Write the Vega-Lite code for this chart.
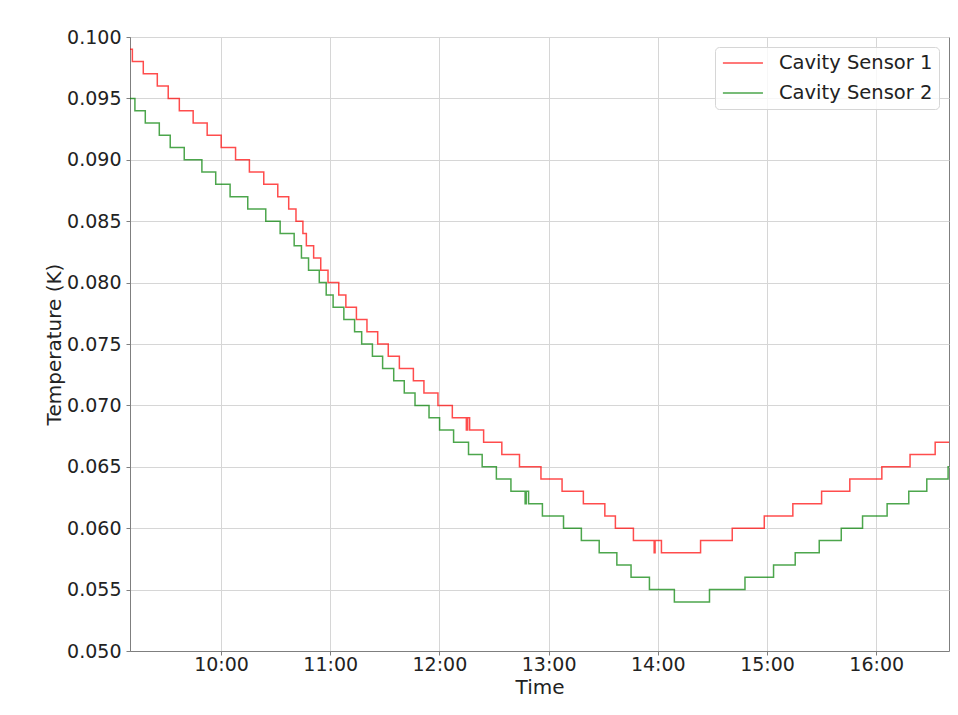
{
  "$schema": "https://vega.github.io/schema/vega-lite/v6.json",
  "width": 819,
  "height": 614,
  "autosize": "none",
  "padding": {"left": 130, "top": 37, "right": 9, "bottom": 64},
  "background": "white",
  "config": {
    "view": {"stroke": "#7f7f7f", "strokeWidth": 1},
    "axis": {
      "labelFont": "DejaVu Sans", "labelFontSize": 19, "labelColor": "#222",
      "titleFont": "DejaVu Sans", "titleFontSize": 20, "titleFontWeight": "normal", "titleColor": "#222",
      "domainColor": "#7f7f7f", "tickColor": "#7f7f7f", "tickSize": 4,
      "gridColor": "#d6d6d6", "gridWidth": 1
    },
    "legend": {
      "labelFont": "DejaVu Sans", "labelFontSize": 19.5, "labelColor": "#222"
    }
  },
  "data": {"values": [
    {"sensor": "Cavity Sensor 1", "time": "2020-01-01T09:10:00", "temp": 0.099},
    {"sensor": "Cavity Sensor 1", "time": "2020-01-01T09:11:18", "temp": 0.098},
    {"sensor": "Cavity Sensor 1", "time": "2020-01-01T09:17:18", "temp": 0.097},
    {"sensor": "Cavity Sensor 1", "time": "2020-01-01T09:25:00", "temp": 0.096},
    {"sensor": "Cavity Sensor 1", "time": "2020-01-01T09:31:00", "temp": 0.095},
    {"sensor": "Cavity Sensor 1", "time": "2020-01-01T09:37:06", "temp": 0.094},
    {"sensor": "Cavity Sensor 1", "time": "2020-01-01T09:44:42", "temp": 0.093},
    {"sensor": "Cavity Sensor 1", "time": "2020-01-01T09:52:24", "temp": 0.092},
    {"sensor": "Cavity Sensor 1", "time": "2020-01-01T10:00:06", "temp": 0.091},
    {"sensor": "Cavity Sensor 1", "time": "2020-01-01T10:08:00", "temp": 0.090},
    {"sensor": "Cavity Sensor 1", "time": "2020-01-01T10:15:36", "temp": 0.089},
    {"sensor": "Cavity Sensor 1", "time": "2020-01-01T10:23:30", "temp": 0.088},
    {"sensor": "Cavity Sensor 1", "time": "2020-01-01T10:31:12", "temp": 0.087},
    {"sensor": "Cavity Sensor 1", "time": "2020-01-01T10:37:12", "temp": 0.086},
    {"sensor": "Cavity Sensor 1", "time": "2020-01-01T10:41:12", "temp": 0.085},
    {"sensor": "Cavity Sensor 1", "time": "2020-01-01T10:45:00", "temp": 0.084},
    {"sensor": "Cavity Sensor 1", "time": "2020-01-01T10:46:54", "temp": 0.083},
    {"sensor": "Cavity Sensor 1", "time": "2020-01-01T10:50:54", "temp": 0.082},
    {"sensor": "Cavity Sensor 1", "time": "2020-01-01T10:54:48", "temp": 0.081},
    {"sensor": "Cavity Sensor 1", "time": "2020-01-01T10:58:48", "temp": 0.080},
    {"sensor": "Cavity Sensor 1", "time": "2020-01-01T11:04:42", "temp": 0.079},
    {"sensor": "Cavity Sensor 1", "time": "2020-01-01T11:08:36", "temp": 0.078},
    {"sensor": "Cavity Sensor 1", "time": "2020-01-01T11:14:24", "temp": 0.077},
    {"sensor": "Cavity Sensor 1", "time": "2020-01-01T11:20:12", "temp": 0.076},
    {"sensor": "Cavity Sensor 1", "time": "2020-01-01T11:26:06", "temp": 0.075},
    {"sensor": "Cavity Sensor 1", "time": "2020-01-01T11:31:54", "temp": 0.074},
    {"sensor": "Cavity Sensor 1", "time": "2020-01-01T11:38:00", "temp": 0.073},
    {"sensor": "Cavity Sensor 1", "time": "2020-01-01T11:45:42", "temp": 0.072},
    {"sensor": "Cavity Sensor 1", "time": "2020-01-01T11:51:30", "temp": 0.071},
    {"sensor": "Cavity Sensor 1", "time": "2020-01-01T11:59:12", "temp": 0.070},
    {"sensor": "Cavity Sensor 1", "time": "2020-01-01T12:07:06", "temp": 0.069},
    {"sensor": "Cavity Sensor 1", "time": "2020-01-01T12:14:48", "temp": 0.068},
    {"sensor": "Cavity Sensor 1", "time": "2020-01-01T12:15:30", "temp": 0.069},
    {"sensor": "Cavity Sensor 1", "time": "2020-01-01T12:16:36", "temp": 0.068},
    {"sensor": "Cavity Sensor 1", "time": "2020-01-01T12:24:18", "temp": 0.067},
    {"sensor": "Cavity Sensor 1", "time": "2020-01-01T12:34:18", "temp": 0.066},
    {"sensor": "Cavity Sensor 1", "time": "2020-01-01T12:44:00", "temp": 0.065},
    {"sensor": "Cavity Sensor 1", "time": "2020-01-01T12:55:48", "temp": 0.064},
    {"sensor": "Cavity Sensor 1", "time": "2020-01-01T13:07:24", "temp": 0.063},
    {"sensor": "Cavity Sensor 1", "time": "2020-01-01T13:19:06", "temp": 0.062},
    {"sensor": "Cavity Sensor 1", "time": "2020-01-01T13:30:54", "temp": 0.061},
    {"sensor": "Cavity Sensor 1", "time": "2020-01-01T13:36:42", "temp": 0.060},
    {"sensor": "Cavity Sensor 1", "time": "2020-01-01T13:46:36", "temp": 0.059},
    {"sensor": "Cavity Sensor 1", "time": "2020-01-01T13:58:00", "temp": 0.058},
    {"sensor": "Cavity Sensor 1", "time": "2020-01-01T13:58:30", "temp": 0.059},
    {"sensor": "Cavity Sensor 1", "time": "2020-01-01T14:02:00", "temp": 0.058},
    {"sensor": "Cavity Sensor 1", "time": "2020-01-01T14:23:30", "temp": 0.059},
    {"sensor": "Cavity Sensor 1", "time": "2020-01-01T14:40:54", "temp": 0.060},
    {"sensor": "Cavity Sensor 1", "time": "2020-01-01T14:58:30", "temp": 0.061},
    {"sensor": "Cavity Sensor 1", "time": "2020-01-01T15:14:12", "temp": 0.062},
    {"sensor": "Cavity Sensor 1", "time": "2020-01-01T15:30:00", "temp": 0.063},
    {"sensor": "Cavity Sensor 1", "time": "2020-01-01T15:45:30", "temp": 0.064},
    {"sensor": "Cavity Sensor 1", "time": "2020-01-01T16:03:06", "temp": 0.065},
    {"sensor": "Cavity Sensor 1", "time": "2020-01-01T16:18:36", "temp": 0.066},
    {"sensor": "Cavity Sensor 1", "time": "2020-01-01T16:32:24", "temp": 0.067},
    {"sensor": "Cavity Sensor 1", "time": "2020-01-01T16:40:00", "temp": 0.067},
    {"sensor": "Cavity Sensor 2", "time": "2020-01-01T09:10:00", "temp": 0.095},
    {"sensor": "Cavity Sensor 2", "time": "2020-01-01T09:12:42", "temp": 0.094},
    {"sensor": "Cavity Sensor 2", "time": "2020-01-01T09:18:24", "temp": 0.093},
    {"sensor": "Cavity Sensor 2", "time": "2020-01-01T09:26:06", "temp": 0.092},
    {"sensor": "Cavity Sensor 2", "time": "2020-01-01T09:32:06", "temp": 0.091},
    {"sensor": "Cavity Sensor 2", "time": "2020-01-01T09:39:48", "temp": 0.090},
    {"sensor": "Cavity Sensor 2", "time": "2020-01-01T09:49:30", "temp": 0.089},
    {"sensor": "Cavity Sensor 2", "time": "2020-01-01T09:57:06", "temp": 0.088},
    {"sensor": "Cavity Sensor 2", "time": "2020-01-01T10:05:00", "temp": 0.087},
    {"sensor": "Cavity Sensor 2", "time": "2020-01-01T10:14:42", "temp": 0.086},
    {"sensor": "Cavity Sensor 2", "time": "2020-01-01T10:24:36", "temp": 0.085},
    {"sensor": "Cavity Sensor 2", "time": "2020-01-01T10:32:30", "temp": 0.084},
    {"sensor": "Cavity Sensor 2", "time": "2020-01-01T10:40:12", "temp": 0.083},
    {"sensor": "Cavity Sensor 2", "time": "2020-01-01T10:44:12", "temp": 0.082},
    {"sensor": "Cavity Sensor 2", "time": "2020-01-01T10:48:06", "temp": 0.081},
    {"sensor": "Cavity Sensor 2", "time": "2020-01-01T10:54:00", "temp": 0.080},
    {"sensor": "Cavity Sensor 2", "time": "2020-01-01T10:57:48", "temp": 0.079},
    {"sensor": "Cavity Sensor 2", "time": "2020-01-01T11:01:36", "temp": 0.078},
    {"sensor": "Cavity Sensor 2", "time": "2020-01-01T11:07:30", "temp": 0.077},
    {"sensor": "Cavity Sensor 2", "time": "2020-01-01T11:13:24", "temp": 0.076},
    {"sensor": "Cavity Sensor 2", "time": "2020-01-01T11:17:18", "temp": 0.075},
    {"sensor": "Cavity Sensor 2", "time": "2020-01-01T11:23:12", "temp": 0.074},
    {"sensor": "Cavity Sensor 2", "time": "2020-01-01T11:28:48", "temp": 0.073},
    {"sensor": "Cavity Sensor 2", "time": "2020-01-01T11:34:54", "temp": 0.072},
    {"sensor": "Cavity Sensor 2", "time": "2020-01-01T11:40:42", "temp": 0.071},
    {"sensor": "Cavity Sensor 2", "time": "2020-01-01T11:46:36", "temp": 0.070},
    {"sensor": "Cavity Sensor 2", "time": "2020-01-01T11:54:18", "temp": 0.069},
    {"sensor": "Cavity Sensor 2", "time": "2020-01-01T12:00:06", "temp": 0.068},
    {"sensor": "Cavity Sensor 2", "time": "2020-01-01T12:07:48", "temp": 0.067},
    {"sensor": "Cavity Sensor 2", "time": "2020-01-01T12:16:00", "temp": 0.066},
    {"sensor": "Cavity Sensor 2", "time": "2020-01-01T12:23:30", "temp": 0.065},
    {"sensor": "Cavity Sensor 2", "time": "2020-01-01T12:31:18", "temp": 0.064},
    {"sensor": "Cavity Sensor 2", "time": "2020-01-01T12:39:18", "temp": 0.063},
    {"sensor": "Cavity Sensor 2", "time": "2020-01-01T12:47:06", "temp": 0.062},
    {"sensor": "Cavity Sensor 2", "time": "2020-01-01T12:47:42", "temp": 0.063},
    {"sensor": "Cavity Sensor 2", "time": "2020-01-01T12:49:00", "temp": 0.062},
    {"sensor": "Cavity Sensor 2", "time": "2020-01-01T12:56:36", "temp": 0.061},
    {"sensor": "Cavity Sensor 2", "time": "2020-01-01T13:08:12", "temp": 0.060},
    {"sensor": "Cavity Sensor 2", "time": "2020-01-01T13:18:00", "temp": 0.059},
    {"sensor": "Cavity Sensor 2", "time": "2020-01-01T13:27:48", "temp": 0.058},
    {"sensor": "Cavity Sensor 2", "time": "2020-01-01T13:37:30", "temp": 0.057},
    {"sensor": "Cavity Sensor 2", "time": "2020-01-01T13:45:18", "temp": 0.056},
    {"sensor": "Cavity Sensor 2", "time": "2020-01-01T13:55:24", "temp": 0.055},
    {"sensor": "Cavity Sensor 2", "time": "2020-01-01T14:09:06", "temp": 0.054},
    {"sensor": "Cavity Sensor 2", "time": "2020-01-01T14:28:24", "temp": 0.055},
    {"sensor": "Cavity Sensor 2", "time": "2020-01-01T14:47:54", "temp": 0.056},
    {"sensor": "Cavity Sensor 2", "time": "2020-01-01T15:03:36", "temp": 0.057},
    {"sensor": "Cavity Sensor 2", "time": "2020-01-01T15:15:30", "temp": 0.058},
    {"sensor": "Cavity Sensor 2", "time": "2020-01-01T15:28:42", "temp": 0.059},
    {"sensor": "Cavity Sensor 2", "time": "2020-01-01T15:40:48", "temp": 0.060},
    {"sensor": "Cavity Sensor 2", "time": "2020-01-01T15:52:30", "temp": 0.061},
    {"sensor": "Cavity Sensor 2", "time": "2020-01-01T16:06:00", "temp": 0.062},
    {"sensor": "Cavity Sensor 2", "time": "2020-01-01T16:17:54", "temp": 0.063},
    {"sensor": "Cavity Sensor 2", "time": "2020-01-01T16:27:48", "temp": 0.064},
    {"sensor": "Cavity Sensor 2", "time": "2020-01-01T16:39:30", "temp": 0.065},
    {"sensor": "Cavity Sensor 2", "time": "2020-01-01T16:40:00", "temp": 0.065}
  ]},
  "mark": {"type": "line", "interpolate": "step-after", "strokeWidth": 1.5, "opacity": 0.7},
  "encoding": {
    "x": {
      "field": "time", "type": "temporal", "title": "Time",
      "scale": {"nice": false},
      "axis": {"format": "%H:%M", "tickCount": 8, "labelPadding": 0, "titlePadding": 3}
    },
    "y": {
      "field": "temp", "type": "quantitative", "title": "Temperature (K)",
      "scale": {"domain": [0.05, 0.1], "nice": false, "zero": false},
      "axis": {"format": ".3f", "tickCount": 10, "labelPadding": 5, "titlePadding": 2}
    },
    "color": {
      "field": "sensor", "type": "nominal", "title": null,
      "scale": {"domain": ["Cavity Sensor 1", "Cavity Sensor 2"], "range": ["#ff0000", "#008000"]},
      "legend": {
        "orient": "top-right", "offset": 10,
        "symbolType": "M-0.9,0H3.55", "symbolSize": 324, "symbolStrokeWidth": 1.5, "symbolOpacity": 0.7,
        "labelOffset": 38, "rowPadding": 10, "padding": 6,
        "fillColor": "rgba(255,255,255,0.8)", "strokeColor": "#d6d6d6", "cornerRadius": 4
      }
    }
  }
}
